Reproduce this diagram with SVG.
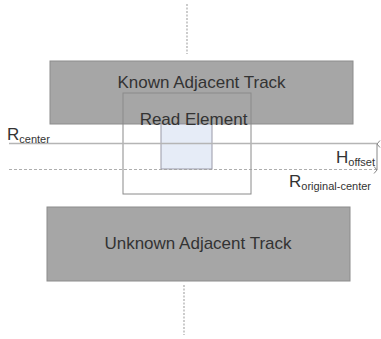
<svg xmlns="http://www.w3.org/2000/svg" width="381" height="339" viewBox="0 0 381 339">
<style>
.track{fill:#a6a6a6;stroke:#8c8c8c;stroke-width:1}
.lbl{font-family:"Liberation Sans",Arial,sans-serif;fill:#333;font-size:17px}
.sub{font-size:11px}
.axis{stroke:#aaa;stroke-width:1.2;stroke-dasharray:2,1.5}
</style>
<defs>
<marker id="ah" markerWidth="8" markerHeight="8" refX="4" refY="1" orient="auto-start-reverse" markerUnits="userSpaceOnUse">
<path d="M0.5,4 L4,1 L7.5,4" fill="none" stroke="#888" stroke-width="1"/>
</marker>
</defs>
<rect width="381" height="339" fill="#fff"/>
<g id="connectors">
<line class="axis" x1="187" y1="4" x2="187" y2="54"/>
<line class="axis" x1="184" y1="285" x2="184" y2="335"/>
</g>
<g id="known-track">
<rect class="track" x="50" y="61" width="303" height="63"/>
<text class="lbl" x="201.5" y="88" text-anchor="middle">Known Adjacent Track</text>
</g>
<g id="unknown-track">
<rect class="track" x="47" y="207" width="303" height="74"/>
<text class="lbl" x="198" y="249" text-anchor="middle">Unknown Adjacent Track</text>
</g>
<g id="read-element">
<rect x="123" y="93" width="128" height="101" fill="none" stroke="#8a8a8a" stroke-width="1"/>
<rect x="161" y="124" width="51" height="45" fill="#e6ecf7" stroke="#9a9aa8" stroke-width="1"/>
<text class="lbl" x="193.5" y="125" text-anchor="middle">Read Element</text>
</g>
<g id="r-center">
<line x1="9" y1="143.5" x2="377" y2="143.5" stroke="#b5b5b5" stroke-width="1.5"/>
<text class="lbl" x="7" y="140">R<tspan class="sub" dy="3">center</tspan></text>
</g>
<g id="r-original-center">
<line x1="9" y1="169.5" x2="378" y2="169.5" stroke="#999" stroke-width="0.8" stroke-dasharray="3,2"/>
<text class="lbl" x="289" y="187">R<tspan class="sub" dy="3">original-center</tspan></text>
</g>
<g id="h-offset">
<line x1="377" y1="144" x2="377" y2="170" stroke="#888" stroke-width="1" marker-start="url(#ah)" marker-end="url(#ah)"/>
<text class="lbl" x="336" y="163">H<tspan class="sub" dy="3">offset</tspan></text>
</g>
</svg>
